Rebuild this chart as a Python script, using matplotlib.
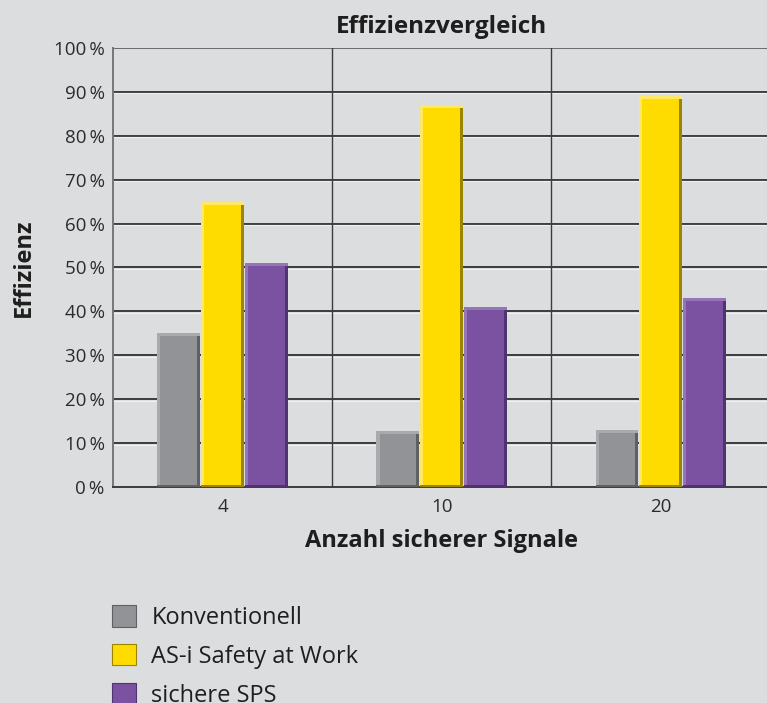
import numpy as np
import matplotlib
matplotlib.use("Agg")
import matplotlib.pyplot as plt
from matplotlib.patches import Patch

plt.rcParams['font.family'] = ['Open Sans', 'DejaVu Sans']

# data
groups = ['4', '10', '20']
series = ['Konventionell', 'AS-i Safety at Work', 'sichere SPS']
konventionell = [35, 12.7, 13]
safety_at_work = [65, 87, 89]
sichere_sps = [51, 41, 43]

colors = ['#929396', '#ffdc00', '#7b52a1']
dark = ['#5f6062', '#9a8400', '#4f3470']
light = ['#a9aaad', '#ffe766', '#9475b5']
bg = '#dcdddf'

fig = plt.figure(figsize=(7.67, 7.03), dpi=100, facecolor=bg)
ax = fig.add_axes([0.1473, 0.3073, 0.857, 0.6244])
ax.set_facecolor(bg)

x = np.arange(len(groups))
w = 0.195
offs = [-0.2, 0.0, 0.2]
strip = 0.014

# horizontal grid: dark line with a light line below
for v in range(10, 100, 10):
    ax.axhline(v, color='#3c3c3c', lw=1.4, zorder=1)
    ax.axhline(v - 0.35, color='#f0f0f0', lw=0.8, zorder=1)
ax.axhline(100, color='#6a6a6a', lw=1.4, zorder=1)
for xv in [0.5, 1.5]:
    ax.axvline(xv, color='#3c3c3c', lw=1.0, zorder=1)

for vals, c, d, l, o in zip([konventionell, safety_at_work, sichere_sps], colors, dark, light, offs):
    ax.bar(x + o, vals, width=w, color=c, zorder=2)
    # bevel: light left/top, dark right/bottom
    ax.bar(x + o - w / 2 + strip / 2, vals, width=strip, color=l, zorder=3)
    ax.bar(x + o + w / 2 - strip / 2, vals, width=strip, color=d, zorder=3)
    ax.bar(x + o, 0.7, width=w, bottom=np.array(vals) - 0.7, color=l, zorder=3)
    ax.bar(x + o, 0.5, width=w, color=d, zorder=3)

ax.set_xlim(-0.5, 2.5)
ax.set_ylim(0, 100)
ax.set_yticks(range(0, 101, 10))
ax.set_yticklabels([f'{v}\u2009%' for v in range(0, 101, 10)])
ax.set_xticks(x)
ax.set_xticklabels(groups)
ax.tick_params(axis='both', length=0, labelsize=13.5, colors='#2b2b2b', pad=6)
ax.tick_params(axis='x', pad=8)

for s in ['top', 'right']:
    ax.spines[s].set_visible(False)
ax.spines['left'].set_color('#777777')
ax.spines['left'].set_linewidth(1.4)
ax.spines['bottom'].set_color('#3c3c3c')
ax.spines['bottom'].set_linewidth(1.4)

ax.set_title('Effizienzvergleich', fontsize=17.5, fontweight='bold', color='#1e1e1e', pad=11)
ax.set_xlabel('Anzahl sicherer Signale', fontsize=17, fontweight='bold', color='#1e1e1e', labelpad=9)
ax.set_ylabel('Effizienz', fontsize=17, fontweight='bold', color='#1e1e1e', labelpad=13)

handles = [Patch(facecolor=c, edgecolor=d, linewidth=0.8) for c, d in zip(colors, dark)]
leg = fig.legend(handles, series, loc='upper left', bbox_to_anchor=(0.1187, 0.169),
                 frameon=False, fontsize=17, handlelength=1.0, handleheight=1.0,
                 labelspacing=0.6, handletextpad=0.65, labelcolor='#1e1e1e')

fig.savefig('out.png', dpi=100, facecolor=bg)
